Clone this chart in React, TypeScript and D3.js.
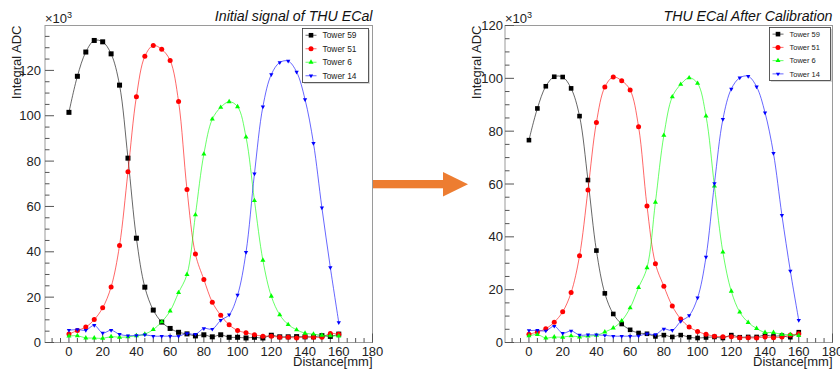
import React from "react";
import * as d3 from "d3";

const distance = [0, 5, 10, 15, 20, 25, 30, 35, 40, 45, 50, 55, 60, 65, 70, 75, 80, 85, 90, 95, 100, 105, 110, 115, 120, 125, 130, 135, 140, 145, 150, 155, 160];

const tower59Init = [101.5, 117.4, 128.1, 133.2, 132.6, 127.3, 113.5, 81.3, 46.0, 24.4, 14.3, 9.0, 6.2, 4.5, 3.8, 2.9, 3.4, 2.5, 3.4, 2.3, 2.3, 2.0, 2.3, 2.0, 3.2, 2.5, 2.5, 2.6, 2.5, 2.5, 3.0, 2.7, 3.7];
const tower51Init = [3.7, 5.3, 6.8, 10.1, 15.3, 24.5, 42.8, 75.3, 108.4, 126.2, 131.0, 129.3, 124.4, 106.3, 67.5, 39.0, 27.8, 17.8, 12.0, 7.8, 5.3, 4.3, 3.4, 2.8, 2.8, 2.3, 2.3, 2.0, 2.5, 2.3, 2.3, 4.0, 3.6];
const tower6Init = [2.8, 3.0, 2.0, 2.0, 1.8, 2.6, 2.3, 2.5, 3.0, 3.7, 5.7, 9.1, 13.9, 22.0, 30.0, 56.3, 83.1, 98.5, 103.7, 106.2, 104.0, 90.6, 62.6, 36.3, 20.4, 12.2, 7.9, 5.6, 4.1, 3.7, 3.2, 3.0, 2.8];
const tower14Init = [5.4, 5.7, 5.4, 7.6, 4.2, 5.4, 3.6, 3.0, 3.1, 3.4, 2.8, 2.8, 2.8, 2.8, 4.0, 3.6, 6.2, 5.9, 9.8, 12.2, 20.9, 39.8, 74.4, 104.0, 118.2, 123.5, 124.1, 119.3, 107.2, 87.9, 59.4, 33.1, 8.8];

const tower59Cal = [76.6, 88.6, 97.0, 100.6, 100.5, 96.2, 85.7, 61.5, 34.8, 18.6, 10.8, 7.0, 4.8, 3.6, 3.3, 2.3, 2.8, 2.1, 2.8, 2.0, 1.7, 1.9, 2.1, 1.7, 2.8, 2.0, 2.1, 2.1, 2.8, 2.3, 2.6, 2.0, 3.9];
const tower51Cal = [3.1, 4.0, 5.2, 7.7, 11.6, 18.9, 32.8, 57.7, 83.3, 96.7, 100.5, 99.1, 95.6, 81.7, 51.7, 29.8, 21.3, 13.8, 8.9, 5.9, 4.2, 3.1, 2.4, 2.2, 2.2, 1.8, 1.8, 1.7, 2.1, 1.8, 2.1, 2.8, 3.3];
const tower6Cal = [2.5, 3.0, 1.7, 2.1, 2.0, 2.5, 2.1, 2.4, 2.7, 4.0, 5.5, 8.2, 13.1, 20.8, 28.3, 53.1, 78.4, 93.0, 97.7, 100.2, 98.1, 85.7, 59.2, 34.2, 19.4, 11.5, 7.6, 5.3, 3.8, 3.8, 3.0, 3.0, 2.6];
const tower14Cal = [4.5, 4.6, 4.4, 6.2, 3.5, 4.4, 2.8, 2.9, 2.9, 2.7, 2.4, 2.4, 2.4, 2.5, 3.3, 3.0, 5.1, 4.6, 8.0, 10.2, 16.9, 32.4, 60.2, 84.5, 96.0, 100.2, 100.8, 96.8, 87.0, 71.6, 48.2, 27.1, 8.4];

const seriesNames = ["Tower 59", "Tower 51", "Tower 6", "Tower 14"];
const seriesColors = ["#000000", "#ff0000", "#00ff00", "#0000ff"];
const seriesMarkers = ["square", "circle", "triangle", "triangleDown"];

const xTickLabels = [0, 20, 40, 60, 80, 100, 120, 140, 160, 180];
const yTickLabelsInit = [0, 20, 40, 60, 80, 100, 120];
const yTickLabelsCal = [0, 20, 40, 60, 80, 100, 120];

const FONT = "'Liberation Sans', Arial, Helvetica, sans-serif";

function Marker({ kind, x, y, color, big }: { kind: string; x: number; y: number; color: string; big: boolean }) {
  if (kind === "square") {
    const s = big ? 5 : 4.6;
    return <rect x={x - s / 2} y={y - s / 2} width={s} height={s} fill={color} />;
  }
  if (kind === "circle") {
    return <circle cx={x} cy={y} r={2.5} fill={color} />;
  }
  if (kind === "triangle") {
    const sym = d3.symbol().type(d3.symbolTriangle).size(11)();
    return <path d={sym || ""} transform={`translate(${x},${y})`} fill={color} />;
  }
  const sym = d3.symbol().type(d3.symbolTriangle).size(8)();
  return <path d={sym || ""} transform={`translate(${x},${y}) rotate(180)`} fill={color} />;
}

type PanelProps = {
  ox: number;
  series: number[][];
  yMax: number;
  yTicks: number[];
  title: string;
  legendBox: { x0: number; x1: number; y0: number; y1: number };
  legendFont: number;
  labelGap: number;
  big: boolean;
};

function Panel({ ox, series, yMax, yTicks, title, legendBox, legendFont, labelGap, big }: PanelProps) {
  const left = ox + 45;
  const right = ox + 372.5;
  const top = 25.5;
  const bottom = 342.5;
  const x = d3.scaleLinear().domain([-14.2, 180]).range([left, right]);
  const y = d3.scaleLinear().domain([0, yMax]).range([bottom, top]);
  const line = d3
    .line<number>()
    .x((_, i) => x(distance[i]))
    .y((d) => y(d))
    .curve(d3.curveCatmullRom.alpha(0.5));

  const xMinor = d3.range(-10, 181, 5).filter((v) => v % 20 !== 0);
  const yMinor = d3.range(0, yMax + 0.01, 5).filter((v) => v % 20 !== 0);
  const tickCol = "#555";
  const frameCol = "#9a9a9a";

  const rowH = (legendBox.y1 - legendBox.y0) / 4;

  return (
    <g>
      {/* frame */}
      <rect x={left} y={top} width={right - left} height={bottom - top} fill="none" stroke={frameCol} strokeWidth={1} />
      {/* x axis ticks */}
      {xTickLabels.map((v) => (
        <line key={"xM" + v} x1={x(v)} x2={x(v)} y1={bottom} y2={bottom - 9} stroke={tickCol} strokeWidth={1} />
      ))}
      {xMinor.map((v) => (
        <line key={"xm" + v} x1={x(v)} x2={x(v)} y1={bottom} y2={bottom - 4.5} stroke={tickCol} strokeWidth={1} />
      ))}
      {xTickLabels.map((v) => (
        <text key={"xl" + v} x={x(v)} y={356} fontSize={13} fontFamily={FONT} textAnchor="middle" fill="#222">
          {v}
        </text>
      ))}
      {/* y axis ticks */}
      {yTicks.map((v) => (
        <line key={"yM" + v} x1={left} x2={left + 9} y1={y(v)} y2={y(v)} stroke={tickCol} strokeWidth={1} />
      ))}
      {yMinor.map((v) => (
        <line key={"ym" + v} x1={left} x2={left + 4.5} y1={y(v)} y2={y(v)} stroke={tickCol} strokeWidth={1} />
      ))}
      {yTicks.map((v) => (
        <text key={"yl" + v} x={left - labelGap} y={y(v) + 4.6} fontSize={13} fontFamily={FONT} textAnchor="end" fill="#222">
          {v}
        </text>
      ))}
      {/* exponent */}
      <text x={left} y={22.5} fontSize={13} fontFamily={FONT} fill="#222">
        ×10<tspan dy={-5} fontSize={9}>3</tspan>
      </text>
      {/* axis titles */}
      <text
        transform={`translate(${ox + 20.5},${top}) rotate(-90)`}
        fontSize={13}
        fontFamily={FONT}
        textAnchor="end"
        fill="#222"
      >
        Integral ADC
      </text>
      <text x={right} y={366} fontSize={13} fontFamily={FONT} textAnchor="end" fill="#222">
        Distance[mm]
      </text>
      {/* title */}
      <text x={right} y={20.5} fontSize={14.2} fontStyle="italic" fontFamily={FONT} textAnchor="end" fill="#111">
        {title}
      </text>
      {/* series */}
      {series.map((s, si) => (
        <g key={"s" + si}>
          <path d={line(s) || ""} fill="none" stroke={seriesColors[si]} strokeWidth={0.8} strokeOpacity={0.75} />
          {s.map((v, i) => (
            <Marker key={i} kind={seriesMarkers[si]} x={x(distance[i])} y={y(v)} color={seriesColors[si]} big={big} />
          ))}
        </g>
      ))}
      {/* legend */}
      <rect
        x={legendBox.x0 + 1.5}
        y={legendBox.y0 + 1.5}
        width={legendBox.x1 - legendBox.x0}
        height={legendBox.y1 - legendBox.y0}
        fill="#d8d8d8"
      />
      <rect
        x={legendBox.x0}
        y={legendBox.y0}
        width={legendBox.x1 - legendBox.x0}
        height={legendBox.y1 - legendBox.y0}
        fill="#fff"
        stroke="#333"
        strokeWidth={0.8}
      />
      {seriesNames.map((n, i) => {
        const cy = legendBox.y0 + rowH * (i + 0.5);
        const lx0 = legendBox.x0 + 3;
        const lx1 = legendBox.x0 + 14;
        return (
          <g key={"lg" + i}>
            <line x1={lx0} x2={lx1} y1={cy} y2={cy} stroke={seriesColors[i]} strokeWidth={0.8} strokeOpacity={0.75} />
            <Marker kind={seriesMarkers[i]} x={(lx0 + lx1) / 2} y={cy} color={seriesColors[i]} big={false} />
            <text x={legendBox.x0 + 20} y={cy + legendFont * 0.36} fontSize={legendFont} fontFamily={FONT} fill="#222">
              {n}
            </text>
          </g>
        );
      })}
    </g>
  );
}

export default function App() {
  return (
    <svg
      width={840}
      height={371}
      viewBox="0 0 840 371"
      style={{ position: "absolute", left: 0, top: 0, background: "#fff" }}
    >
      <rect x={0} y={0} width={840} height={371} fill="#fff" />
      <Panel
        ox={0}
        series={[tower59Init, tower51Init, tower6Init, tower14Init]}
        yMax={139.8}
        yTicks={yTickLabelsInit}
        title="Initial signal of THU ECal"
        legendBox={{ x0: 302.5, x1: 368.5, y0: 28.5, y1: 82.5 }}
        legendFont={8.4}
        labelGap={4}
        big={true}
      />
      <Panel
        ox={460}
        series={[tower59Cal, tower51Cal, tower6Cal, tower14Cal]}
        yMax={120}
        yTicks={yTickLabelsCal}
        title="THU ECal After Calibration"
        legendBox={{ x0: 769.5, x1: 830.5, y0: 27.5, y1: 80.5 }}
        legendFont={7.5}
        labelGap={2}
        big={false}
      />
      {/* arrow */}
      <rect x={373} y={180} width={72} height={8.3} fill="#ED7D31" />
      <path d="M443,172 L468,184.2 L443,196.6 Z" fill="#ED7D31" />
    </svg>
  );
}
